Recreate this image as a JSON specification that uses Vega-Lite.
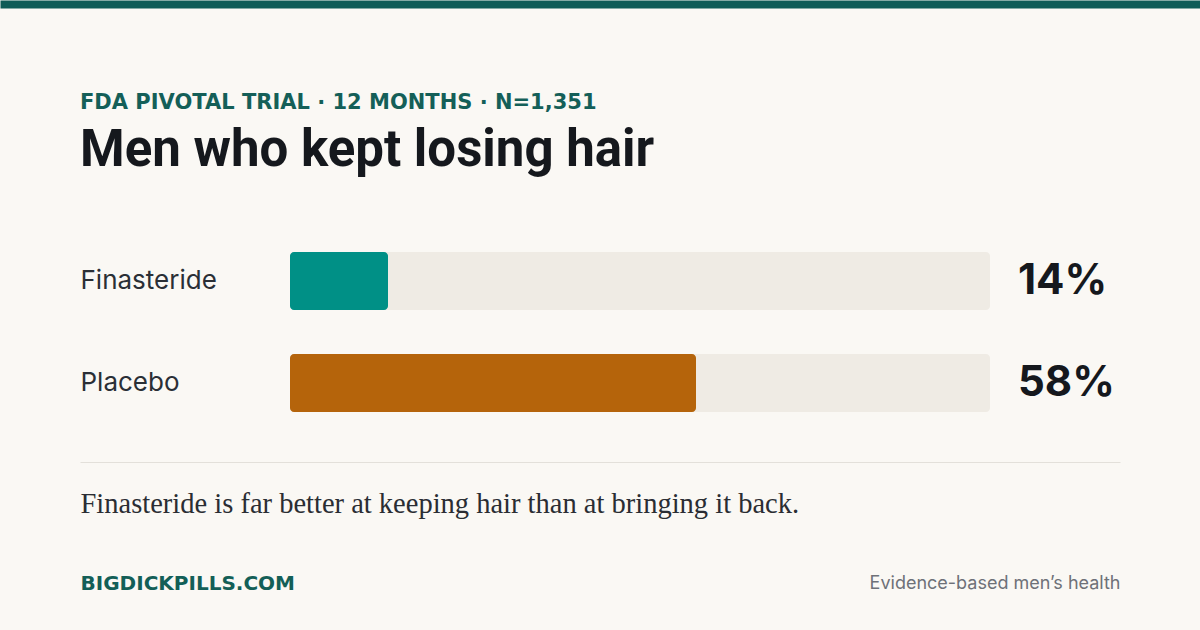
{
  "$schema": "https://vega.github.io/schema/vega-lite/v6.json",
  "description": "Men who kept losing hair, FDA pivotal trial",
  "background": "#faf8f4",
  "width": 1040,
  "height": 454,
  "autosize": {"type": "none"},
  "padding": {"left": 80, "top": 8, "right": 80, "bottom": 168},
  "config": {
    "font": "Inter",
    "view": {"stroke": null}
  },
  "title": {
    "text": "FDA PIVOTAL TRIAL · 12 MONTHS · N=1,351",
    "subtitle": "Men who kept losing hair",
    "orient": "top",
    "anchor": "start",
    "frame": "group",
    "offset": -776,
    "font": "DejaVu Sans",
    "fontSize": 21,
    "fontWeight": "bold",
    "color": "#145f58",
    "subtitleFont": "Roboto",
    "subtitleFontSize": 51,
    "subtitleFontWeight": "bold",
    "subtitleColor": "#15181d",
    "subtitlePadding": 13
  },
  "data": {
    "values": [
      {"group": "Finasteride", "value": 0.14},
      {"group": "Placebo", "value": 0.58}
    ]
  },
  "resolve": {"axis": {"x": "independent", "y": "independent"}},
  "layer": [
    {
      "mark": {"type": "bar", "color": "#efebe4", "cornerRadius": 4},
      "encoding": {
        "y": {
          "field": "group",
          "type": "nominal",
          "sort": ["Finasteride", "Placebo"],
          "scale": {"range": [244, 404], "paddingInner": 0.431, "paddingOuter": 0},
          "axis": {
            "orient": "left",
            "title": null,
            "domain": false,
            "ticks": false,
            "tickSize": 0,
            "labelPadding": 0,
            "labelAlign": "left",
            "labelBaseline": "middle",
            "labelFont": "Inter",
            "labelFontSize": 26,
            "labelColor": "#2a2f36"
          }
        },
        "x": {
          "datum": 0,
          "type": "quantitative",
          "scale": {"domain": [-0.3, 1.185714], "range": [0, 1040], "zero": false, "nice": false},
          "axis": {
            "orient": "bottom",
            "domain": true,
            "domainColor": "#e3e0da",
            "domainWidth": 1,
            "labels": false,
            "ticks": false,
            "grid": false,
            "title": "Finasteride is far better at keeping hair than at bringing it back.",
            "titleFont": "Liberation Serif",
            "titleFontSize": 28.5,
            "titleFontWeight": "normal",
            "titleColor": "#2a2d33",
            "titleAnchor": "start",
            "titleAlign": "left",
            "titleBaseline": "middle",
            "titleX": 0,
            "titleY": 41
          }
        },
        "x2": {"datum": 1}
      }
    },
    {
      "mark": {"type": "bar", "cornerRadius": 4},
      "encoding": {
        "y": {
          "field": "group",
          "type": "nominal",
          "sort": ["Finasteride", "Placebo"],
          "axis": {
            "orient": "right",
            "domain": false,
            "ticks": false,
            "labels": false,
            "grid": false,
            "title": "Evidence-based men’s health",
            "titleAngle": 0,
            "titleX": 0,
            "titleY": 575,
            "titleAlign": "right",
            "titleBaseline": "middle",
            "titleFont": "Inter",
            "titleFontSize": 18,
            "titleFontWeight": "normal",
            "titleColor": "#6e7178"
          }
        },
        "x": {
          "field": "value",
          "type": "quantitative",
          "axis": {
            "orient": "top",
            "domain": false,
            "labels": false,
            "grid": false,
            "ticks": true,
            "values": [0.442857],
            "tickSize": 8,
            "tickWidth": 1200,
            "tickColor": "#0f5c57",
            "title": "BIGDICKPILLS.COM",
            "titleX": 0,
            "titleY": 575,
            "titleAlign": "left",
            "titleAnchor": "start",
            "titleBaseline": "middle",
            "titleFont": "DejaVu Sans",
            "titleFontSize": 20,
            "titleFontWeight": "bold",
            "titleColor": "#135f57"
          }
        },
        "x2": {"datum": 0},
        "color": {
          "field": "group",
          "type": "nominal",
          "scale": {"domain": ["Finasteride", "Placebo"], "range": ["#009086", "#b5640b"]},
          "legend": null
        }
      }
    },
    {
      "mark": {"type": "text", "align": "left", "baseline": "middle", "dx": 28, "font": "Inter", "fontSize": 42, "fontWeight": "bold", "color": "#15181d"},
      "encoding": {
        "y": {"field": "group", "type": "nominal", "sort": ["Finasteride", "Placebo"], "axis": null},
        "x": {"datum": 1, "type": "quantitative", "axis": null},
        "text": {"field": "value", "type": "quantitative", "format": ".0%"}
      }
    }
  ]
}
